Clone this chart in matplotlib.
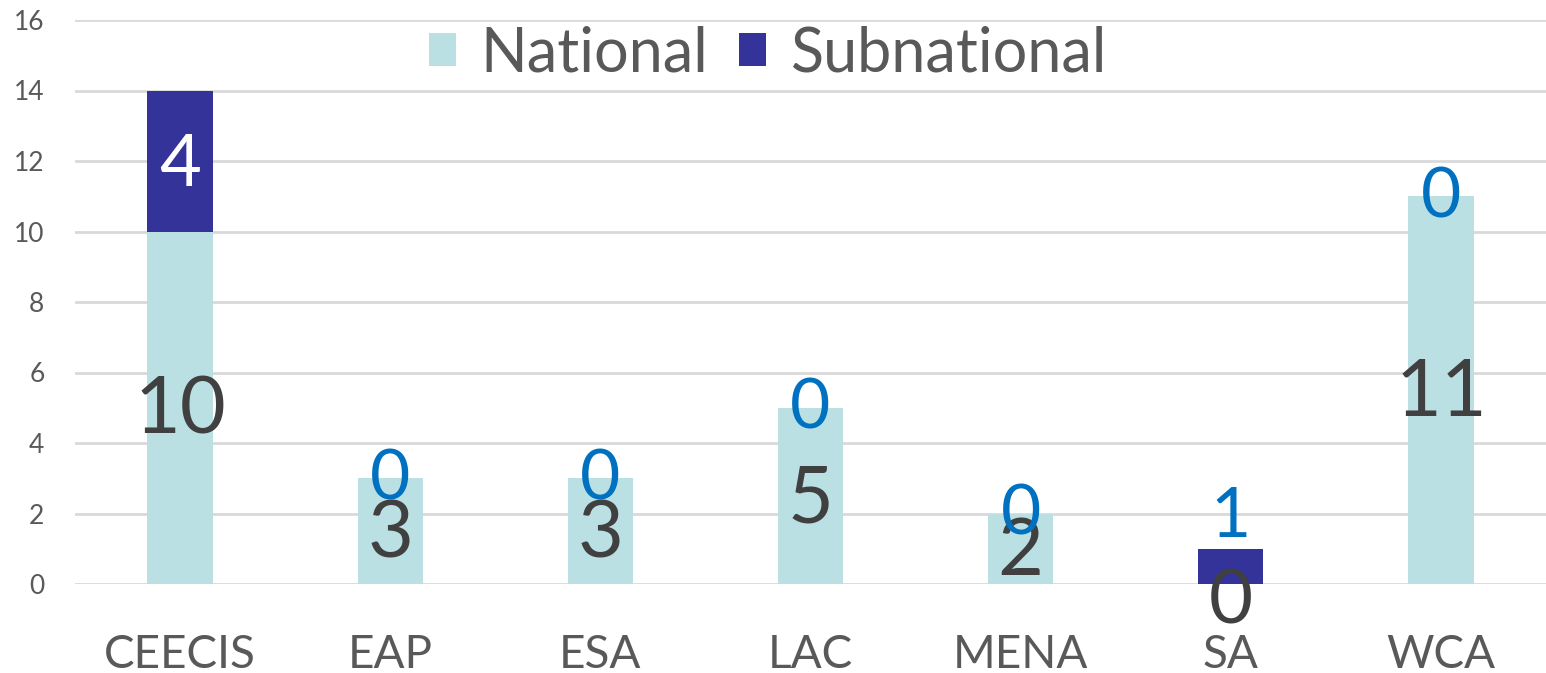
import matplotlib.pyplot as plt
import numpy as np

regions = ['CEECIS', 'EAP', 'ESA', 'LAC', 'MENA', 'SA', 'WCA']
national = [10, 3, 3, 5, 2, 0, 11]
subnational = [4, 0, 0, 0, 0, 1, 0]

nat_color = '#BAE0E3'
sub_color = '#333399'
txt_gray = '#595959'

plt.rcParams['font.family'] = ['Lato', 'DejaVu Sans']

fig = plt.figure(figsize=(15.46, 6.73), dpi=100)
ax = fig.add_axes([75 / 1546, 1 - 584 / 673, 1 - 75 / 1546, (584 - 20) / 673])

x = np.arange(len(regions))
w = 0.31
ax.bar(x, national, w, color=nat_color, label='National', zorder=2)
ax.bar(x, subnational, w, bottom=national, color=sub_color, label='Subnational', zorder=2)

# data labels
for i in range(len(regions)):
    n, s = national[i], subnational[i]
    if n > 0:
        ax.annotate(str(n), (x[i], n / 2), xytext=(0, -3), textcoords='offset points',
                    ha='center', va='center', fontsize=57, color='#404040', zorder=3)
    else:
        ax.annotate(str(n), (x[i], 0), xytext=(0, -13), textcoords='offset points',
                    ha='center', va='center', fontsize=55, color='#404040', zorder=3,
                    annotation_clip=False)
    if s >= 4:
        ax.annotate(str(s), (x[i], n + s / 2), xytext=(0, -3), textcoords='offset points',
                    ha='center', va='center', fontsize=52, color='white', zorder=3)
    elif s > 0:
        ax.annotate(str(s), (x[i], n + s), xytext=(0, 0), textcoords='offset points',
                    ha='center', va='bottom', fontsize=50, color='#0070C0', zorder=3)
    else:
        ax.annotate(str(s), (x[i], n + s), xytext=(0, -1), textcoords='offset points',
                    ha='center', va='center', fontsize=50, color='#0070C0', zorder=3)

ax.set_xlim(-0.5, len(regions) - 0.5)
ax.set_ylim(0, 16)
ax.set_yticks(range(0, 17, 2))
ax.set_xticks(x)
ax.set_xticklabels(regions)
ax.tick_params(axis='x', length=0, pad=36, labelsize=33, labelcolor=txt_gray)
ax.tick_params(axis='y', length=0, pad=22, labelsize=19, labelcolor=txt_gray)

ax.grid(axis='y', color='#D9D9D9', linewidth=2, zorder=0)
for sp in ax.spines.values():
    sp.set_visible(False)

leg = ax.legend(loc='center', bbox_to_anchor=(0.471, 0.94), ncol=2, frameon=False,
                fontsize=44, handlelength=0.45, handleheight=0.45, handletextpad=0.4,
                columnspacing=0.5, labelcolor=txt_gray)

fig.savefig('out.png', dpi=100)
